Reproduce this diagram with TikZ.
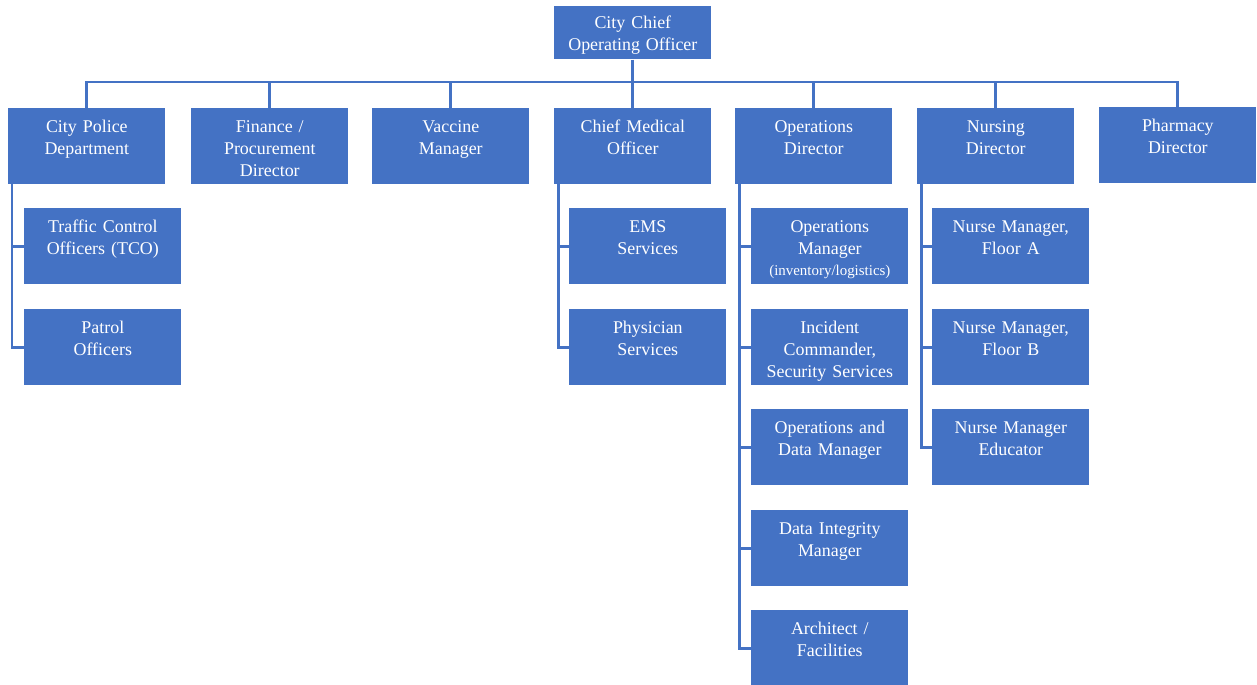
\documentclass[tikz,border=0pt]{standalone}
\usepackage{fontspec}
\setmainfont{Liberation Serif}
\definecolor{unitblue}{HTML}{4472C4}
\newcommand{\orgfont}{\fontsize{10.2}{12.5}\selectfont}

\begin{document}
\begin{tikzpicture}[x=0.02cm, y=-0.02cm] % 1 unit = 1 px of the chart
            % Styles for boxes and links
            \tikzset{
                unit/.style={rectangle, fill=unitblue, text=white, anchor=north west, minimum width=3.14cm,
                    text width=3.0cm, align=center, inner xsep=0.07cm, inner ysep=0pt,
                    text height=14pt, text depth=29.1pt, font=\orgfont},
                topunit/.style={unit, text height=12.6pt, text depth=17.5pt},
                link/.style={draw=unitblue, line width=1.7pt}
            }
            % Fix the page to the size of the chart
            \useasboundingbox (0,0) rectangle (1257,685);

            % Top of the chart
            \node[topunit] (coo) at (554,6) {City Chief\\Operating Officer};
            \coordinate (bus) at (632,82);

            % First level
            \node[unit] (cpd) at (8,108) {City Police\\Department};
            \node[unit] (fin) at (191,108) {Finance /\\Procurement\\Director};
            \node[unit] (vac) at (372,108) {Vaccine\\Manager};
            \node[unit] (cmo) at (554,108) {Chief Medical\\Officer};
            \node[unit] (opd) at (735,108) {Operations\\Director};
            \node[unit] (nur) at (917,108) {Nursing\\Director};
            \node[unit] (pha) at (1099,107) {Pharmacy\\Director};

            % Police units
            \node[unit] (tco) at (24,208) {Traffic Control\\Officers (TCO)};
            \node[unit] (pat) at (24,309) {Patrol\\Officers};

            % Medical units
            \node[unit] (ems) at (569,208) {EMS\\Services};
            \node[unit] (phy) at (569,309) {Physician\\Services};

            % Operations units
            \node[unit] (opm) at (751,208) {Operations\\Manager\\[-1pt]{\fontsize{8.5}{10}\selectfont (inventory/logistics)}};
            \node[unit] (inc) at (751,309) {Incident\\Commander,\\Security Services};
            \node[unit] (odm) at (751,409) {Operations and\\Data Manager};
            \node[unit] (dim) at (751,510) {Data Integrity\\Manager};
            \node[unit] (arc) at (751,610) {Architect /\\Facilities};

            % Nursing units
            \node[unit] (nfa) at (932,208) {Nurse Manager,\\Floor A};
            \node[unit] (nfb) at (932,309) {Nurse Manager,\\Floor B};
            \node[unit] (nme) at (932,409) {Nurse Manager\\Educator};

            % Links from the top
            \draw[link] (coo.south) -- (cmo.north);
            \draw[link] (cpd.north) |- (bus) -| (pha.north);
            \draw[link] (fin.north) -- (fin.north |- bus);
            \draw[link] (vac.north) -- (vac.north |- bus);
            \draw[link] (opd.north) -- (opd.north |- bus);
            \draw[link] (nur.north) -- (nur.north |- bus);

            % Links down the left side of each group
            \draw[link] ([xshift=0.08cm]cpd.south west) |- (pat.west);
            \draw[link] ([xshift=0.08cm]cpd.south west |- tco.west) -- (tco.west);
            \draw[link] ([xshift=0.08cm]cmo.south west) |- (phy.west);
            \draw[link] ([xshift=0.08cm]cmo.south west |- ems.west) -- (ems.west);
            \draw[link] ([xshift=0.08cm]opd.south west) |- (arc.west);
            \draw[link] ([xshift=0.08cm]opd.south west |- opm.west) -- (opm.west);
            \draw[link] ([xshift=0.08cm]opd.south west |- inc.west) -- (inc.west);
            \draw[link] ([xshift=0.08cm]opd.south west |- odm.west) -- (odm.west);
            \draw[link] ([xshift=0.08cm]opd.south west |- dim.west) -- (dim.west);
            \draw[link] ([xshift=0.08cm]nur.south west) |- (nme.west);
            \draw[link] ([xshift=0.08cm]nur.south west |- nfa.west) -- (nfa.west);
            \draw[link] ([xshift=0.08cm]nur.south west |- nfb.west) -- (nfb.west);
        \end{tikzpicture}
\end{document}
